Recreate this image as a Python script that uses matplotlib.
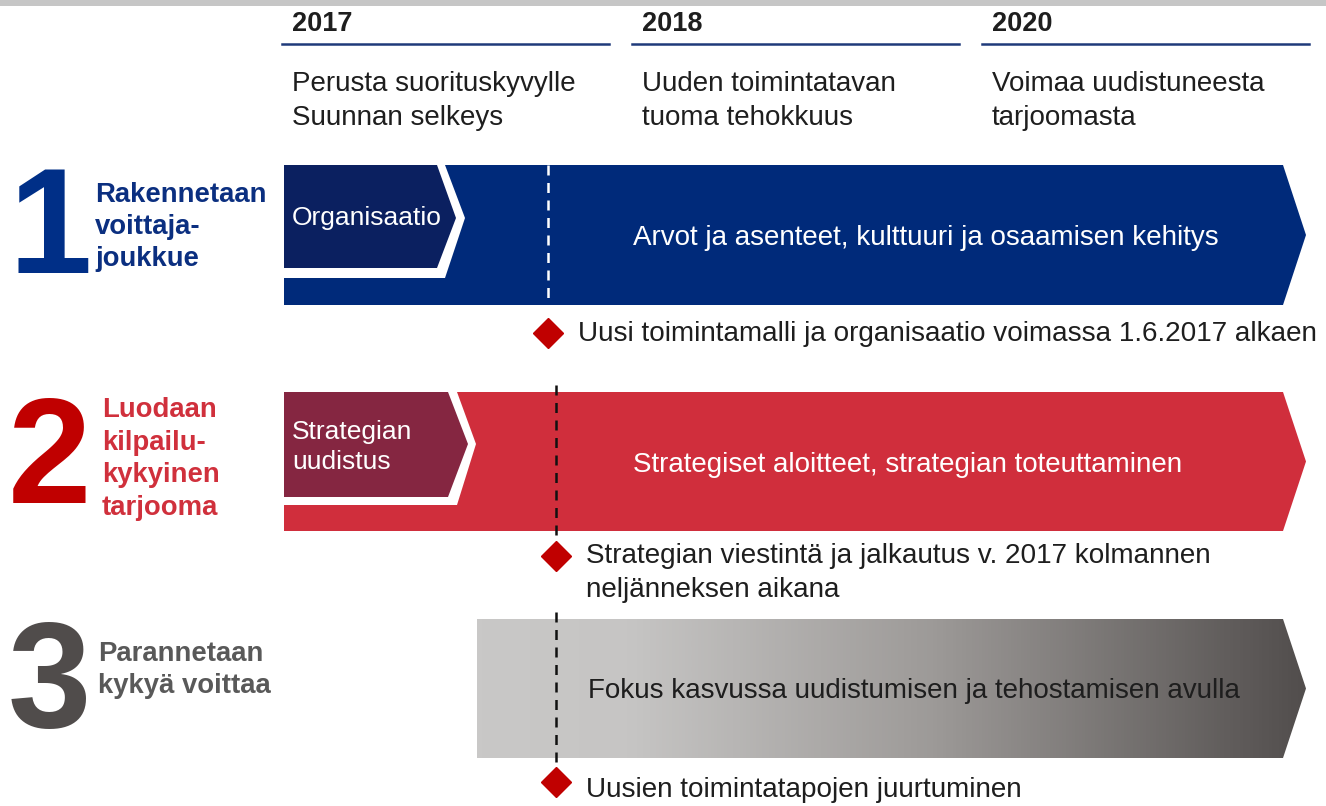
import numpy as np
import matplotlib
matplotlib.use("Agg")
from matplotlib import pyplot as plt
from matplotlib.patches import Polygon, Rectangle
from matplotlib.colors import LinearSegmentedColormap

plt.rcParams['font.family'] = ['Liberation Sans', 'DejaVu Sans']

# header columns
years = ["2017", "2018", "2020"]
year_notes = ["Perusta suorituskyvylle\nSuunnan selkeys",
              "Uuden toimintatavan\ntuoma tehokkuus",
              "Voimaa uudistuneesta\ntarjoomasta"]

# rows
row_numbers = ["1", "2", "3"]
row_titles = ["Rakennetaan\nvoittaja-\njoukkue",
              "Luodaan\nkilpailu-\nkykyinen\ntarjooma",
              "Parannetaan\nkykyä voittaa"]
phase_labels = ["Organisaatio", "Strategian\nuudistus", None]
bar_labels = ["Arvot ja asenteet, kulttuuri ja osaamisen kehitys",
              "Strategiset aloitteet, strategian toteuttaminen",
              "Fokus kasvussa uudistumisen ja tehostamisen avulla"]
milestones = ["Uusi toimintamalli ja organisaatio voimassa 1.6.2017 alkaen",
              "Strategian viestintä ja jalkautus v. 2017 kolmannen\nneljänneksen aikana",
              "Uusien toimintatapojen juurtuminen"]

NAVY = "#002a7a"
NAVY_DARK = "#0b2060"
RED = "#d02e3c"
MAROON = "#852641"
RED_BIG = "#c00000"
GREY_BIG = "#504c4b"
TXT = "#1e1e1e"

fig = plt.figure(figsize=(13.26, 8.06), dpi=100)
ax = fig.add_axes([0, 0, 1, 1])
ax.set_xlim(0, 1326)
ax.set_ylim(806, 0)
ax.axis('off')

# top grey strip
ax.add_patch(Rectangle((0, 0), 1326, 6, color="#c6c6c6", lw=0))

# header
col_x = [282, 632, 982]
for i in range(3):
    ax.text(col_x[i] + 10, 24, years[i], fontsize=19.5, fontweight='bold', color=TXT, va='center')
    ax.plot([col_x[i], col_x[i] + 327], [44, 44], color="#1f3a7a", lw=1.8)
    ax.text(col_x[i] + 10, 101, year_notes[i], fontsize=20, color=TXT, va='center', linespacing=1.36)


def arrow_poly(x0, top, bot, right=1283, tip=1306):
    mid = (top + bot) / 2
    return [(x0, top), (right, top), (tip, mid), (right, bot), (x0, bot)]


rows = [
    dict(top=165, bot=305, x0=284, color=NAVY, num_color="#002f87", title_color="#0b2f80",
         dash_x=548, dash_color="white", dash_span=(165, 302), label_x=926,
         ms_y=333, ms_x=548, ms_dy=1, title_x=95, title_y=227, num_y=234),
    dict(top=392, bot=531, x0=284, color=RED, num_color=RED_BIG, title_color="#d0303c",
         dash_x=556, dash_color="#111111", dash_span=(385, 552), label_x=908,
         ms_y=556, ms_x=556, ms_dy=17, title_x=102, title_y=459, num_y=464),
    dict(top=619, bot=758, x0=477, color=None, num_color=GREY_BIG, title_color="#595959",
         dash_x=556, dash_color="#111111", dash_span=(612, 780), label_x=914,
         ms_y=782, ms_x=556, ms_dy=8, title_x=98, title_y=670, num_y=688),
]

inner_shapes = [
    dict(white=[(284, 165), (445, 165), (465, 218), (445, 278), (284, 278)],
         dark=[(284, 165), (437, 165), (456, 218), (437, 268), (284, 268)],
         color=NAVY_DARK, tx=292, ty=218),
    dict(white=[(284, 392), (457, 392), (476, 444), (457, 505), (284, 505)],
         dark=[(284, 392), (448, 392), (468, 444), (448, 497), (284, 497)],
         color=MAROON, tx=292, ty=447),
]

for i, r in enumerate(rows):
    pts = arrow_poly(r['x0'], r['top'], r['bot'])
    if r['color'] is not None:
        ax.add_patch(Polygon(pts, closed=True, color=r['color'], lw=0, zorder=1))
    else:
        poly = Polygon(pts, closed=True, facecolor='none', lw=0, zorder=1)
        ax.add_patch(poly)
        cmap = LinearSegmentedColormap.from_list(
            "g", [(0, "#c9c8c7"), (0.18, "#c6c5c4"), (0.55, "#9d9a98"), (1, "#524e4d")])
        grad = np.linspace(0, 1, 256).reshape(1, -1)
        im = ax.imshow(grad, cmap=cmap, extent=(r['x0'], 1306, r['bot'], r['top']),
                       aspect='auto', zorder=1, interpolation='bilinear')
        im.set_clip_path(poly)

    if i < 2:
        s = inner_shapes[i]
        ax.add_patch(Polygon(s['white'], closed=True, color='white', lw=0, zorder=2))
        ax.add_patch(Polygon(s['dark'], closed=True, color=s['color'], lw=0, zorder=3))
        ax.text(s['tx'], s['ty'], phase_labels[i], fontsize=19, color='white',
                va='center', ha='left', zorder=4, linespacing=1.35)

    # main bar label
    ax.text(r['label_x'], (r['top'] + r['bot']) / 2 + 3, bar_labels[i], fontsize=20,
            color='white' if i < 2 else TXT, ha='center', va='center', zorder=4)

    # dashed line + milestone
    ax.plot([r['dash_x'], r['dash_x']], list(r['dash_span']), color=r['dash_color'],
            lw=1.8, ls=(0, (4, 3)), zorder=5)
    ax.plot(r['ms_x'], r['ms_y'], marker='D', ms=15, color=RED_BIG, mec=RED_BIG, zorder=6)
    ax.text(r['ms_x'] + 30, r['ms_y'] + r['ms_dy'], milestones[i],
            fontsize=20.1, color=TXT, va='center', ha='left', linespacing=1.36)

    # big number and title
    ax.text(8, r['num_y'], row_numbers[i], fontsize=108, fontweight='bold',
            color=r['num_color'], va='center', ha='left')
    ax.text(r['title_x'], r['title_y'], row_titles[i], fontsize=19.8, fontweight='bold',
            color=r['title_color'], va='center', ha='left', linespacing=1.32)

fig.savefig("out.png", dpi=100)
